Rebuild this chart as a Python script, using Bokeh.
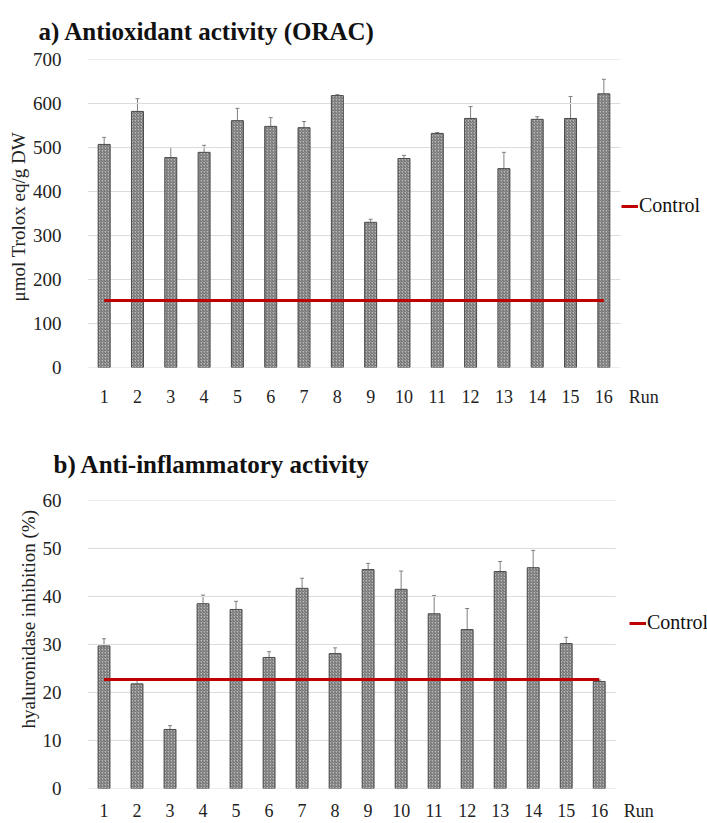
from bokeh.plotting import figure
from bokeh.models import (ColumnDataSource, Whisker, TeeHead, FixedTicker, Legend,
                          LegendItem, Range1d, Title)
from bokeh.layouts import column
from bokeh.embed import file_html
from bokeh.resources import INLINE

runs = list(range(1, 17))
run_word = "Run"
run_word_pos = 17.2

orac = [507, 582, 477, 489, 561, 548, 545, 618, 330, 475, 532, 566, 452, 564, 566, 622]
orac_err = [16, 29, 23, 16, 28, 20, 14, 2, 7, 7, 2, 27, 37, 6, 50, 33]
orac_control = 152

hyal = [29.7, 21.8, 12.3, 38.5, 37.3, 27.3, 41.7, 28.1, 45.6, 41.5, 36.4, 33.1, 45.2, 46.0, 30.2, 22.3]
hyal_err = [1.5, 1.0, 0.8, 1.8, 1.7, 1.2, 2.1, 1.2, 1.3, 3.8, 3.8, 4.4, 2.1, 3.6, 1.3, 0.3]
hyal_control = 22.7

FONT = "Liberation Serif"
W = 707


def panel(title, ylabel, vals, errs, control, ymax, ystep, height, left, plot_right,
          top, bottom, title_standoff, ylabel_offset, legend_y, xlab_standoff):
    px_per_run = (plot_right - left) / len(runs)
    x_end = 0.5 + (W - left) / px_per_run
    p = figure(width=W, height=height, output_backend="svg", toolbar_location=None,
               x_range=Range1d(0.5, x_end), y_range=Range1d(0, ymax),
               min_border_left=left, min_border_right=0,
               min_border_top=top, min_border_bottom=bottom)
    p.outline_line_color = None
    p.background_fill_color = "white"
    p.border_fill_color = "white"

    p.title.text = title
    p.title.text_font = FONT
    p.title.text_font_style = "bold"
    p.title.text_font_size = "25px"
    p.title.text_color = "#111111"
    p.title.align = "left"
    p.title.offset = -(left - 38)
    p.title.standoff = title_standoff

    yticks = list(range(0, ymax + 1, ystep))
    # horizontal gridlines spanning only the category area
    p.segment(x0=[0.5] * len(yticks), x1=[len(runs) + 0.5] * len(yticks),
              y0=yticks, y1=yticks, line_color="#dcdcdc", line_width=1)

    src = ColumnDataSource(dict(
        x=runs, top=vals,
        upper=[v + e for v, e in zip(vals, errs)],
        lower=[v - e for v, e in zip(vals, errs)],
    ))
    p.vbar(x="x", top="top", width=0.36, source=src,
           fill_color="#b8b8b8", line_color="#4a4a4a", line_width=1,
           hatch_pattern="right_diagonal_line", hatch_color="#666666",
           hatch_scale=3, hatch_weight=1)
    p.add_layout(Whisker(base="x", upper="upper", lower="lower", source=src,
                         line_color="#808080", line_width=1,
                         upper_head=TeeHead(size=4, line_color="#808080", line_width=1),
                         lower_head=TeeHead(size=4, line_color="#808080", line_width=1)))

    ctrl = p.line(x=[runs[0], runs[-1]], y=[control, control],
                  line_color="#c00000", line_width=3)
    legend = Legend(items=[LegendItem(label="Control", renderers=[ctrl])],
                    location=(plot_right - left + 1, legend_y), border_line_color=None,
                    background_fill_alpha=0, label_text_font=FONT,
                    label_text_font_size="20px", label_text_color="#111111",
                    glyph_width=17, label_standoff=1, padding=0, margin=0)
    p.add_layout(legend)

    p.xaxis.ticker = FixedTicker(ticks=runs + [run_word_pos])
    p.xaxis.major_label_overrides = {run_word_pos: run_word}
    p.xaxis.axis_line_color = None
    p.xaxis.major_tick_line_color = None
    p.xaxis.minor_tick_line_color = None
    p.xaxis.major_label_text_font = FONT
    p.xaxis.major_label_text_font_size = "18px"
    p.xaxis.major_label_text_color = "#222222"
    p.xaxis.major_label_text_line_height = 1.0
    p.xaxis.major_label_standoff = xlab_standoff

    p.yaxis.ticker = FixedTicker(ticks=yticks)
    p.yaxis.axis_line_color = None
    p.yaxis.major_tick_line_color = None
    p.yaxis.minor_tick_line_color = None
    p.yaxis.major_label_text_font = FONT
    p.yaxis.major_label_text_font_size = "19px"
    p.yaxis.major_label_text_color = "#222222"
    p.yaxis.major_label_standoff = 20

    p.add_layout(Title(text=ylabel, align="left", offset=ylabel_offset,
                       text_font=FONT, text_font_style="normal",
                       text_font_size="19px", text_color="#222222", standoff=2), "left")

    p.xgrid.grid_line_color = None
    p.ygrid.grid_line_color = None
    return p


p1 = panel("a) Antioxidant activity (ORAC)", "μmol Trolox eq/g DW",
           orac, orac_err, orac_control, 700, 100, 412, 87, 620, 59, 45, 29, 66, 150, 13)
p2 = panel("b) Anti-inflammatory activity", "hyaluronidase inhibition (%)",
           hyal, hyal_err, hyal_control, 60, 10, 411, 72, 613, 88, 35, 46, 60, 154, 6)

p = column(p1, p2, spacing=0)
open("out.html", "w").write(file_html(p, INLINE))
